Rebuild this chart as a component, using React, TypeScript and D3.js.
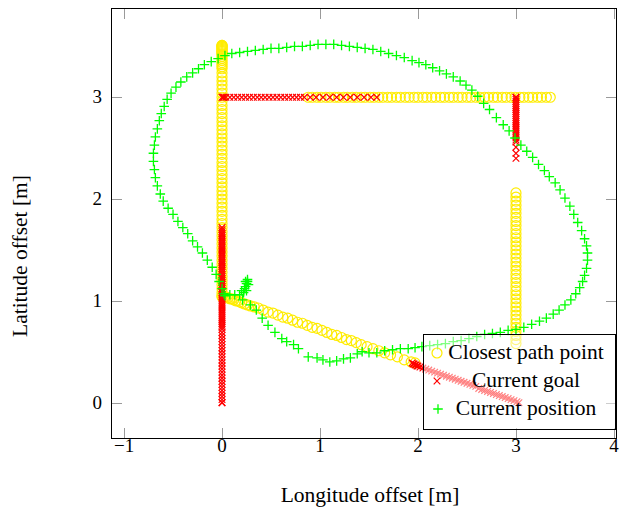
import React from "react";
import * as d3 from "d3";

// ---- data ----
const xTicks = [-1, 0, 1, 2, 3, 4];
const yTicks = [0, 1, 2, 3];
const legendLabels = ["Closest path point", "Current goal", "Current position"];

// Closest path point (yellow circles)
const closestX0Y = [1.04, 1.08, 1.12, 1.16, 1.2, 1.24, 1.28, 1.32, 1.36, 1.4, 1.44, 1.48, 1.52, 1.56, 1.6, 1.64, 1.68, 1.72, 1.76, 1.8, 1.84, 1.88, 1.92, 1.96, 2.0, 2.04, 2.08, 2.12, 2.16, 2.2, 2.24, 2.28, 2.32, 2.36, 2.4, 2.44, 2.48, 2.52, 2.56, 2.6, 2.64, 2.68, 2.72, 2.76, 2.8, 2.84, 2.88, 2.92, 2.96, 3.0, 3.04, 3.08, 3.12, 3.16, 3.2, 3.24, 3.28, 3.3, 3.32, 3.34, 3.36, 3.38, 3.4, 3.42, 3.43, 3.44, 3.45, 3.46, 3.47, 3.48, 3.49, 3.5, 3.5, 3.51, 3.51];
const closestY3X = [0.88, 0.92, 0.97, 1.01, 1.06, 1.1, 1.15, 1.19, 1.24, 1.28, 1.33, 1.37, 1.42, 1.46, 1.51, 1.55, 1.6, 1.64, 1.69, 1.73, 1.78, 1.82, 1.87, 1.91, 1.96, 2.0, 2.05, 2.09, 2.14, 2.18, 2.23, 2.27, 2.32, 2.36, 2.41, 2.45, 2.5, 2.54, 2.59, 2.63, 2.68, 2.72, 2.77, 2.81, 2.86, 2.9, 2.95, 2.99, 3.04, 3.08, 3.13, 3.17, 3.22, 3.26, 3.31, 3.35];
const closestX3Y = [0.58, 0.62, 0.66, 0.7, 0.74, 0.78, 0.82, 0.86, 0.9, 0.94, 0.98, 1.02, 1.06, 1.1, 1.14, 1.18, 1.22, 1.26, 1.3, 1.34, 1.38, 1.42, 1.46, 1.5, 1.54, 1.58, 1.62, 1.66, 1.7, 1.74, 1.78, 1.82, 1.86, 1.9, 1.94, 1.98, 2.02, 2.06];
const closestDiag: [number, number][] = [[0.0, 1.05], [0.02, 1.04], [0.04, 1.04], [0.06, 1.03], [0.08, 1.02], [0.1, 1.02], [0.12, 1.01], [0.14, 1.0], [0.16, 1.0], [0.18, 0.99], [0.2, 0.98], [0.23, 0.97], [0.26, 0.96], [0.29, 0.95], [0.33, 0.94], [0.37, 0.93], [0.42, 0.91], [0.47, 0.89], [0.52, 0.88], [0.57, 0.86], [0.62, 0.84], [0.67, 0.83], [0.72, 0.81], [0.77, 0.79], [0.82, 0.78], [0.87, 0.76], [0.92, 0.74], [0.97, 0.73], [1.02, 0.71], [1.07, 0.69], [1.12, 0.67], [1.17, 0.66], [1.22, 0.64], [1.27, 0.62], [1.32, 0.61], [1.37, 0.59], [1.42, 0.57], [1.48, 0.55], [1.54, 0.53], [1.6, 0.51], [1.66, 0.49], [1.72, 0.47], [1.79, 0.45], [1.86, 0.42], [1.93, 0.4], [1.97, 0.39]];

// Current goal (red crosses)
const goalX0Y = [0.0, 0.0, 0.03, 0.06, 0.09, 0.12, 0.15, 0.18, 0.21, 0.24, 0.27, 0.3, 0.33, 0.36, 0.39, 0.42, 0.45, 0.48, 0.51, 0.54, 0.57, 0.6, 0.63, 0.66, 0.69, 0.72, 0.74, 0.76, 0.78, 0.8, 0.82, 0.84, 0.86, 0.88, 0.9, 0.92, 0.94, 0.96, 0.98, 1.0, 1.02, 1.04, 1.06, 1.08, 1.1, 1.12, 1.14, 1.16, 1.18, 1.2, 1.22, 1.24, 1.26, 1.28, 1.3, 1.32, 1.34, 1.36, 1.38, 1.4, 1.42, 1.44, 1.46, 1.48, 1.5, 1.52, 1.54, 1.56, 1.58, 1.6, 1.62, 1.64, 1.66, 1.68, 1.7, 1.72];
const goalY3X = [0.0, 0.01, 0.02, 0.04, 0.08, 0.12, 0.16, 0.2, 0.24, 0.28, 0.32, 0.36, 0.4, 0.44, 0.48, 0.52, 0.56, 0.6, 0.64, 0.68, 0.72, 0.76, 0.8, 0.84, 0.9, 0.96, 1.03, 1.1, 1.17, 1.24, 1.31, 1.38, 1.45, 1.52, 1.58];
const goalX3Y = [3.0, 3.0, 2.98, 2.96, 2.94, 2.92, 2.9, 2.88, 2.86, 2.84, 2.82, 2.8, 2.78, 2.76, 2.74, 2.72, 2.7, 2.68, 2.66, 2.64, 2.62, 2.6, 2.58, 2.56, 2.51, 2.45, 2.4];
const goalDiag: [number, number][] = [[1.94, 0.39], [1.95, 0.38], [1.96, 0.38], [1.97, 0.37], [1.98, 0.37], [1.99, 0.36], [2.0, 0.36], [2.02, 0.35], [2.05, 0.34], [2.08, 0.33], [2.11, 0.32], [2.14, 0.31], [2.17, 0.3], [2.2, 0.29], [2.23, 0.28], [2.26, 0.27], [2.29, 0.26], [2.32, 0.25], [2.35, 0.24], [2.38, 0.23], [2.41, 0.22], [2.44, 0.21], [2.47, 0.2], [2.5, 0.19], [2.53, 0.18], [2.56, 0.17], [2.59, 0.16], [2.62, 0.14], [2.65, 0.13], [2.68, 0.12], [2.71, 0.11], [2.74, 0.1], [2.77, 0.09], [2.8, 0.08], [2.83, 0.07], [2.86, 0.06], [2.89, 0.05], [2.92, 0.04], [2.95, 0.03], [2.98, 0.02], [3.01, 0.01], [3.03, 0.0]];

// Current position (green plus)
const positionPts: [number, number][] = [
  [0.25, 1.17], [0.26, 1.19], [0.24, 1.14], [0.27, 1.16], [0.23, 1.12], [0.25, 1.1], [0.22, 1.08], [0.26, 1.21], [0.24, 1.19], [0.2, 1.1],
  [0.18, 1.06], [0.13, 1.06], [0.08, 1.06], [0.03, 1.05],
  [0.21, 1.01], [0.29, 0.96], [0.35, 0.91], [0.41, 0.83], [0.47, 0.76], [0.54, 0.69], [0.61, 0.63], [0.66, 0.6], [0.73, 0.57], [0.78, 0.53], [0.88, 0.45], [0.97, 0.44],
  [1.03, 0.42], [1.1, 0.4], [1.17, 0.41], [1.24, 0.43], [1.31, 0.44], [1.38, 0.48], [1.43, 0.5], [1.5, 0.49], [1.58, 0.49], [1.66, 0.51], [1.74, 0.52], [1.82, 0.53], [1.9, 0.53], [1.97, 0.54],
  [2.04, 0.55], [2.12, 0.56], [2.2, 0.57], [2.28, 0.58], [2.36, 0.6], [2.44, 0.61], [2.52, 0.63], [2.6, 0.65], [2.68, 0.67], [2.76, 0.68], [2.84, 0.69], [2.92, 0.71], [3.0, 0.72],
  [3.08, 0.74], [3.16, 0.77], [3.24, 0.8], [3.31, 0.83], [3.38, 0.87], [3.44, 0.91], [3.5, 0.96], [3.56, 1.01], [3.61, 1.07], [3.65, 1.13], [3.68, 1.19], [3.7, 1.25], [3.72, 1.32],
  [3.73, 1.4], [3.73, 1.47], [3.72, 1.54], [3.7, 1.61], [3.67, 1.69], [3.63, 1.77], [3.59, 1.85], [3.55, 1.93], [3.5, 2.01], [3.45, 2.09], [3.4, 2.16], [3.34, 2.22], [3.29, 2.28],
  [3.23, 2.34], [3.17, 2.41], [3.11, 2.47], [3.05, 2.53], [2.99, 2.6], [2.93, 2.67], [2.87, 2.73], [2.8, 2.8], [2.73, 2.88], [2.67, 2.94], [2.61, 3.01], [2.55, 3.07], [2.49, 3.12],
  [2.43, 3.16], [2.36, 3.2], [2.29, 3.23], [2.22, 3.26], [2.15, 3.29], [2.08, 3.32], [2.01, 3.34], [1.94, 3.36], [1.86, 3.39], [1.78, 3.41], [1.7, 3.43], [1.62, 3.45], [1.54, 3.47],
  [1.46, 3.48], [1.38, 3.49], [1.3, 3.5], [1.22, 3.51], [1.14, 3.52], [1.06, 3.52], [0.98, 3.52], [0.9, 3.51], [0.82, 3.5], [0.74, 3.5], [0.66, 3.49], [0.58, 3.48], [0.5, 3.48],
  [0.42, 3.47], [0.34, 3.46], [0.26, 3.45], [0.18, 3.44], [0.1, 3.43], [0.03, 3.41], [-0.04, 3.38], [-0.11, 3.35], [-0.18, 3.32], [-0.24, 3.28], [-0.3, 3.24], [-0.36, 3.2],
  [-0.42, 3.15], [-0.47, 3.1], [-0.52, 3.04], [-0.56, 2.98], [-0.59, 2.91], [-0.62, 2.84], [-0.64, 2.77], [-0.66, 2.69], [-0.68, 2.61], [-0.69, 2.53], [-0.7, 2.45], [-0.7, 2.37],
  [-0.69, 2.29], [-0.68, 2.21], [-0.66, 2.13], [-0.63, 2.05], [-0.6, 1.98], [-0.55, 1.91], [-0.5, 1.85], [-0.45, 1.78], [-0.4, 1.72], [-0.35, 1.66], [-0.3, 1.59], [-0.25, 1.53],
  [-0.2, 1.47], [-0.15, 1.4], [-0.1, 1.33], [-0.06, 1.26], [-0.03, 1.19], [0.0, 1.12], [0.02, 1.07]
];

const YELLOW = "#ffec00";
const RED = "#ff0000";
const GREEN = "#00ff00";
const FONT = "'Liberation Serif', 'Times New Roman', serif";

const W = 624, H = 508;
const L = 111, R = 617, T = 8, B = 439;

export default function App() {
  const x = d3.scaleLinear().domain([-1.133, 4.031]).range([L, R]);
  const y = d3.scaleLinear().domain([-0.357, 3.877]).range([B, T]);

  const closest: [number, number][] = [
    ...closestX0Y.map((v) => [0, v] as [number, number]),
    ...closestY3X.map((v) => [v, 3] as [number, number]),
    ...closestX3Y.map((v) => [3, v] as [number, number]),
    ...closestDiag,
  ];
  const goal: [number, number][] = [
    ...goalX0Y.map((v) => [0, v] as [number, number]),
    ...goalY3X.map((v) => [v, 3] as [number, number]),
    ...goalX3Y.map((v) => [3, v] as [number, number]),
    ...goalDiag,
  ];

  const circleMark = (cx: number, cy: number, k: string) => (
    <circle key={k} cx={cx} cy={cy} r={5} fill="none" stroke={YELLOW} strokeWidth={1.2} />
  );
  const xMark = (cx: number, cy: number, k: string) => (
    <path key={k} d={`M${cx - 3.3},${cy - 3.3}L${cx + 3.3},${cy + 3.3}M${cx - 3.3},${cy + 3.3}L${cx + 3.3},${cy - 3.3}`} stroke={RED} strokeWidth={1.2} fill="none" />
  );
  const plusMark = (cx: number, cy: number, k: string) => (
    <path key={k} d={`M${cx - 4.8},${cy}L${cx + 4.8},${cy}M${cx},${cy - 4.8}L${cx},${cy + 4.8}`} stroke={GREEN} strokeWidth={1.3} fill="none" />
  );

  const tickLen = 11;
  const lx = 423, ly = 334, lw = 192, lh = 95;
  const rows = [353, 381, 409];

  return (
    <svg width={W} height={H} style={{ position: "absolute", left: 0, top: 0, background: "#fff" }} fontFamily={FONT}>
      <rect x={0} y={0} width={W} height={H} fill="#fff" />
      <defs>
        <clipPath id="plot">
          <rect x={L} y={T} width={R - L} height={B - T} />
        </clipPath>
      </defs>
      {/* ticks */}
      <g stroke="#9a9a9a" strokeWidth={1}>
        {xTicks.map((t) => (
          <g key={"xt" + t}>
            <line x1={Math.round(x(t)) + 0.5} x2={Math.round(x(t)) + 0.5} y1={B} y2={B - tickLen} />
            <line x1={Math.round(x(t)) + 0.5} x2={Math.round(x(t)) + 0.5} y1={T} y2={T + tickLen} />
          </g>
        ))}
        {yTicks.map((t) => (
          <g key={"yt" + t}>
            <line y1={Math.round(y(t)) + 0.5} y2={Math.round(y(t)) + 0.5} x1={L} x2={L + tickLen} />
            <line y1={Math.round(y(t)) + 0.5} y2={Math.round(y(t)) + 0.5} x1={R} x2={R - tickLen} />
          </g>
        ))}
      </g>
      <g clipPath="url(#plot)">
        {closest.map(([a, b], i) => circleMark(x(a), y(b), "c" + i))}
        {goal.map(([a, b], i) => xMark(x(a), y(b), "g" + i))}
        {positionPts.map(([a, b], i) => plusMark(x(a), y(b), "p" + i))}
      </g>
      {/* frame */}
      <rect x={L + 0.5} y={T + 0.5} width={R - L - 1} height={B - T - 1} fill="none" stroke="#000" strokeWidth={1} />
      {/* tick labels */}
      {xTicks.map((t) => (
        <text key={"xl" + t} x={x(t)} y={452} textAnchor="middle" fontSize={19} fill="#000">
          {t < 0 ? "\u2212" + Math.abs(t) : String(t)}
        </text>
      ))}
      {yTicks.map((t) => (
        <text key={"yl" + t} x={102} y={y(t) + 6} textAnchor="end" fontSize={19} fill="#000">
          {String(t)}
        </text>
      ))}
      {/* axis titles */}
      <text x={370} y={502} textAnchor="middle" fontSize={21.5} fill="#000">Longitude offset [m]</text>
      <text transform="translate(27,256) rotate(-90)" textAnchor="middle" fontSize={21.5} fill="#000">Latitude offset [m]</text>
      {/* legend */}
      <rect x={lx + 0.5} y={ly + 0.5} width={lw} height={lh} fill="#fff" fillOpacity={0.5} stroke="#000" strokeWidth={1} />
      {circleMark(437, rows[0], "lc")}
      {xMark(437, rows[1], "lg")}
      {plusMark(438, rows[2], "lp")}
      {legendLabels.map((s, i) => (
        <text key={s} x={526} y={rows[i] + 6} textAnchor="middle" fontSize={21.5} fill="#000">{s}</text>
      ))}
    </svg>
  );
}
